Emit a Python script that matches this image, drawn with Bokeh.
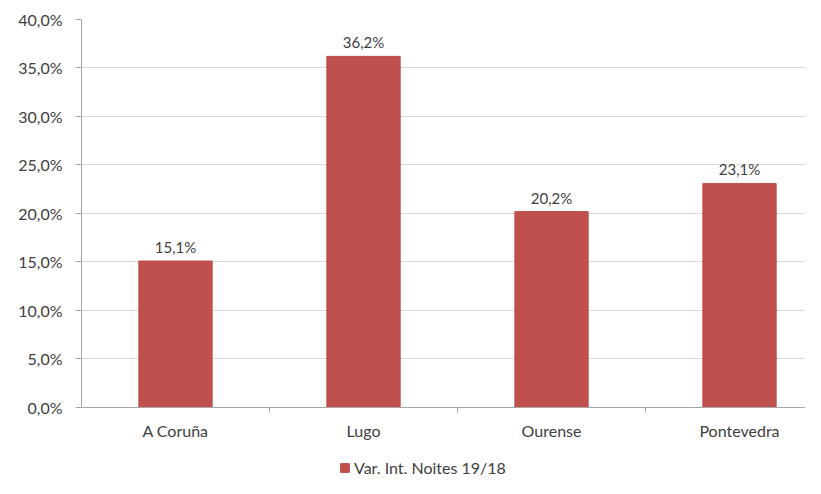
from bokeh.plotting import figure
from bokeh.models import Range1d, FixedTicker, ColumnDataSource, Legend, LegendItem
from bokeh.core.properties import value
from bokeh.embed import file_html
from bokeh.resources import INLINE

categories = ["A Coruña", "Lugo", "Ourense", "Pontevedra"]
values = [15.1, 36.2, 20.2, 23.1]
value_labels = ["15,1%", "36,2%", "20,2%", "23,1%"]
y_ticks = [0, 5, 10, 15, 20, 25, 30, 35, 40]
y_tick_labels = ["0,0%", "5,0%", "10,0%", "15,0%", "20,0%", "25,0%", "30,0%", "35,0%", "40,0%"]
series_name = "Var. Int. Noites 19/18"

FONT = "Lato"
TXT = "#404040"
BAR = "#C0504D"

xs = [i + 0.5 for i in range(len(categories))]
src = ColumnDataSource(dict(x=xs, top=values, lab=value_labels))

# frame spans 19..478 px; value 0 sits at 407 px, 40 at 19 px
p = figure(width=805, height=478, output_backend="svg", toolbar_location=None,
           x_range=Range1d(0, 3.851), y_range=Range1d(-7.32, 40),
           min_border_left=81, min_border_top=19, min_border_bottom=0, min_border_right=0)
p.outline_line_color = None
p.background_fill_color = "white"

r = p.vbar(x="x", top="top", width=0.39, source=src, fill_color=BAR, line_color=BAR)
p.text(x="x", y="top", text="lab", source=src, text_align="center", text_baseline="bottom",
       y_offset=-5, text_font=value(FONT), text_font_size="15px", text_color=TXT)

# x axis
xa = p.xaxis[0]
xa.fixed_location = 0
xa.ticker = FixedTicker(ticks=xs, minor_ticks=[i for i in range(1, len(categories))])
xa.major_label_overrides = {x: c for x, c in zip(xs, categories)}
xa.major_tick_out = 0
xa.major_tick_in = 0
xa.minor_tick_out = 5
xa.minor_tick_in = 0
xa.minor_tick_line_color = "#a6a6a6"
xa.axis_line_color = "#a6a6a6"
xa.major_label_text_font = FONT
xa.major_label_text_font_size = "16px"
xa.major_label_text_color = TXT
xa.major_label_standoff = 9

# y axis
ya = p.yaxis[0]
ya.bounds = (0, 40)
ya.ticker = FixedTicker(ticks=y_ticks)
ya.major_label_overrides = {t: l for t, l in zip(y_ticks, y_tick_labels)}
ya.major_tick_out = 6
ya.major_tick_in = 0
ya.minor_tick_line_color = None
ya.major_tick_line_color = "#a6a6a6"
ya.axis_line_color = "#a6a6a6"
ya.major_label_text_font = FONT
ya.major_label_text_font_size = "16px"
ya.major_label_text_color = TXT
ya.major_label_standoff = 13

p.xgrid.grid_line_color = None
p.ygrid.grid_line_color = "#d9d9d9"

legend = Legend(items=[LegendItem(label=series_name, renderers=[r])],
                location=(258, 1), orientation="horizontal",
                glyph_width=11, glyph_height=11, label_height=16,
                label_text_font=FONT, label_text_font_size="16px", label_text_color=TXT,
                padding=0, margin=0, spacing=0, label_standoff=4,
                border_line_color=None, background_fill_alpha=0)
p.add_layout(legend, "center")

open("out.html", "w").write(file_html(p, INLINE))
